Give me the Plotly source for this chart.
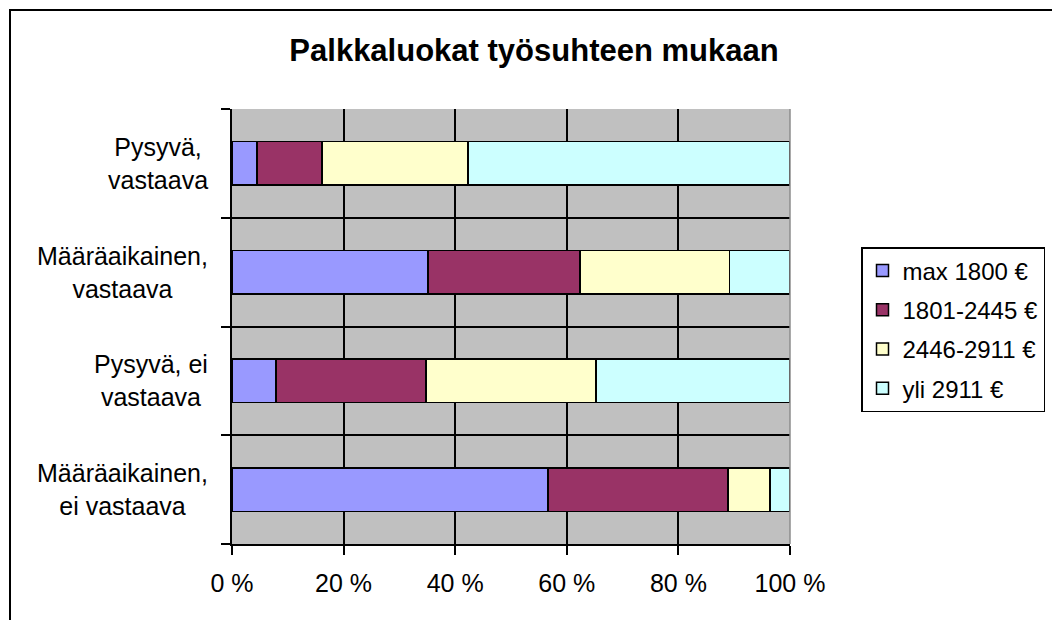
import plotly.graph_objects as go

title = "Palkkaluokat työsuhteen mukaan"
categories = ["Määräaikainen, ei vastaava", "Pysyvä, ei vastaava",
              "Määräaikainen, vastaava", "Pysyvä, vastaava"]
category_labels = ["Määräaikainen,<br>ei vastaava", "Pysyvä, ei<br>vastaava",
                   "Määräaikainen,<br>vastaava", "Pysyvä,<br>vastaava"]
series_names = ["max 1800 €", "1801-2445 €", "2446-2911 €", "yli 2911 €"]
max_1800 = [56.6, 7.9, 35.1, 4.5]
s_1801_2445 = [32.3, 26.9, 27.3, 11.6]
s_2446_2911 = [7.5, 30.4, 26.8, 26.2]
yli_2911 = [3.6, 34.8, 10.8, 57.7]
series_values = [max_1800, s_1801_2445, s_2446_2911, yli_2911]
colors = ["#9999FF", "#993366", "#FFFFCC", "#CCFFFF"]
x_ticks = [0, 20, 40, 60, 80, 100]
x_ticktext = ["0 %", "20 %", "40 %", "60 %", "80 %", "100 %"]

FONT = "Liberation Sans, Arial, sans-serif"

fig = go.Figure()
for i, (name, vals, col) in enumerate(zip(series_names, series_values, colors)):
    fig.add_trace(go.Bar(
        y=categories, x=vals, name=name, orientation="h",
        legendgroup=f"g{i}",
        marker=dict(color=col, line=dict(color="#000000", width=1.5)),
        hoverinfo="x+name",
    ))

W, H = 1052, 620
L, R, T, B = 232, 262, 109, 76
pw, ph = W - L - R, H - T - B

def px_x(p):
    return (p - L) / pw

def px_y(p):
    return (H - B - p) / ph

annotations = []
for cat, lab in zip(categories, category_labels):
    annotations.append(dict(
        x=px_x(210), xref="paper", y=cat, yref="y", text=lab,
        xanchor="right", yanchor="middle", align="center", showarrow=False,
        font=dict(family=FONT, size=25, color="#000000"),
    ))

fig.update_layout(
    width=W, height=H,
    margin=dict(l=L, r=R, t=T, b=B, autoexpand=False),
    paper_bgcolor="#FFFFFF", plot_bgcolor="#C0C0C0",
    barmode="stack", bargap=0.6,
    title=dict(text=title, x=534 / W, xref="container", xanchor="center",
               y=1 - 50 / H, yref="container", yanchor="middle",
               font=dict(family=FONT, size=31, color="#000000", weight="bold")),
    font=dict(family=FONT, size=25, color="#000000"),
    xaxis=dict(range=[0, 100], tickvals=x_ticks, ticktext=x_ticktext,
               showgrid=True, gridcolor="#000000", gridwidth=1.5,
               showline=True, linecolor="#000000", linewidth=1.5,
               ticks="outside", ticklen=9, tickcolor="#000000", tickwidth=1.5,
               ticklabelstandoff=7, zeroline=False,
               tickfont=dict(family=FONT, size=25, color="#000000")),
    yaxis=dict(type="category", categoryorder="array", categoryarray=categories,
               tickson="boundaries", showgrid=True, gridcolor="#000000", gridwidth=1.5,
               showline=True, linecolor="#000000", linewidth=1.5,
               ticks="outside", ticklen=9, tickcolor="#000000", tickwidth=1.5,
               showticklabels=False, zeroline=False),
    legend=dict(x=px_x(861), y=px_y(247), xanchor="left", yanchor="top",
                bordercolor="#000000", borderwidth=1.5, bgcolor="#FFFFFF",
                font=dict(family=FONT, size=24, color="#000000"),
                traceorder="grouped", tracegroupgap=5, itemwidth=30),
    annotations=annotations,
    shapes=[dict(type="rect", xref="paper", yref="paper",
                 x0=px_x(10), x1=px_x(1100), y0=px_y(700), y1=px_y(10),
                 line=dict(color="#000000", width=2), fillcolor="rgba(0,0,0,0)",
                 layer="below"),
            dict(type="line", xref="paper", yref="paper", x0=1, x1=1, y0=0, y1=1,
                 line=dict(color="#8c8c8c", width=1.5), layer="above")],
    showlegend=True,
)

fig.write_html("out.html", config={"displayModeBar": False},
               post_script="document.body.style.margin='0';")
